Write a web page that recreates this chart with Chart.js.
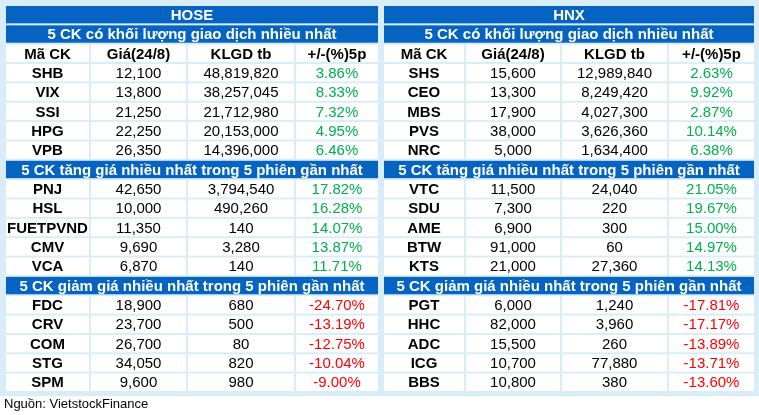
<!DOCTYPE html>
<html><head><meta charset="utf-8">
<script src="https://cdn.jsdelivr.net/npm/chart.js@4"></script>
<style>html,body{margin:0;padding:0;background:#fff}#wrap{width:759px;height:415px}</style>
</head><body><div id="wrap"><canvas id="chart"></canvas></div>
<script>
const exchanges = ["HOSE", "HNX"];
const sections = ["5 CK có khối lượng giao dịch nhiều nhất", "5 CK tăng giá nhiều nhất trong 5 phiên gần nhất", "5 CK giảm giá nhiều nhất trong 5 phiên gần nhất"];
const columns = ["Mã CK", "Giá(24/8)", "KLGD tb", "+/-(%)5p"];

const hoseVolTickers = ["SHB", "VIX", "SSI", "HPG", "VPB"];
const hoseVolPrice = ["12,100", "13,800", "21,250", "22,250", "26,350"];
const hoseVolAvg = ["48,819,820", "38,257,045", "21,712,980", "20,153,000", "14,396,000"];
const hoseVolChg = [3.86, 8.33, 7.32, 4.95, 6.46];

const hoseUpTickers = ["PNJ", "HSL", "FUETPVND", "CMV", "VCA"];
const hoseUpPrice = ["42,650", "10,000", "11,350", "9,690", "6,870"];
const hoseUpAvg = ["3,794,540", "490,260", "140", "3,280", "140"];
const hoseUpChg = [17.82, 16.28, 14.07, 13.87, 11.71];

const hoseDownTickers = ["FDC", "CRV", "COM", "STG", "SPM"];
const hoseDownPrice = ["18,900", "23,700", "26,700", "34,050", "9,600"];
const hoseDownAvg = ["680", "500", "80", "820", "980"];
const hoseDownChg = [-24.70, -13.19, -12.75, -10.04, -9.00];

const hnxVolTickers = ["SHS", "CEO", "MBS", "PVS", "NRC"];
const hnxVolPrice = ["15,600", "13,300", "17,900", "38,000", "5,000"];
const hnxVolAvg = ["12,989,840", "8,249,420", "4,027,300", "3,626,360", "1,634,400"];
const hnxVolChg = [2.63, 9.92, 2.87, 10.14, 6.38];

const hnxUpTickers = ["VTC", "SDU", "AME", "BTW", "KTS"];
const hnxUpPrice = ["11,500", "7,300", "6,900", "91,000", "21,000"];
const hnxUpAvg = ["24,040", "220", "300", "60", "27,360"];
const hnxUpChg = [21.05, 19.67, 15.00, 14.97, 14.13];

const hnxDownTickers = ["PGT", "HHC", "ADC", "ICG", "BBS"];
const hnxDownPrice = ["6,000", "82,000", "15,500", "10,700", "10,800"];
const hnxDownAvg = ["1,240", "3,960", "260", "77,880", "380"];
const hnxDownChg = [-17.81, -17.17, -13.89, -13.71, -13.60];

const source = "Nguồn: VietstockFinance";

const blocks = [
  [[hoseVolTickers, hoseVolPrice, hoseVolAvg, hoseVolChg], [hoseUpTickers, hoseUpPrice, hoseUpAvg, hoseUpChg], [hoseDownTickers, hoseDownPrice, hoseDownAvg, hoseDownChg]],
  [[hnxVolTickers, hnxVolPrice, hnxVolAvg, hnxVolChg], [hnxUpTickers, hnxUpPrice, hnxUpAvg, hnxUpChg], [hnxDownTickers, hnxDownPrice, hnxDownAvg, hnxDownChg]]
];

// column edges in chart units (x axis 0..759), row height in y units
const colEdges = [[5, 90, 187, 295, 379], [383, 465, 561, 668, 755]];
const top0 = 5, rowH = 19.35;

const tablePlugin = {
  id: "table",
  afterDraw(chart) {
    const ctx = chart.ctx, xs = chart.scales.x, ys = chart.scales.y;
    const X = v => xs.getPixelForValue(v), Y = v => ys.getPixelForValue(v);
    ctx.save();
    ctx.fillStyle = "#d9edf9";
    ctx.fillRect(X(0), Y(0), X(759) - X(0), Y(396) - Y(0));
    ctx.textBaseline = "middle";
    ctx.textAlign = "center";
    const cell = (x0, x1, r, fill, text, color, bold) => {
      const y0 = Y(top0 + r * rowH), y1 = Y(top0 + (r + 1) * rowH);
      ctx.fillStyle = fill;
      ctx.fillRect(X(x0) + 1, y0 + 1, X(x1) - X(x0) - 2, y1 - y0 - 2);
      ctx.fillStyle = color;
      ctx.font = (bold ? "bold " : "") + "15px 'Liberation Sans', Arial, sans-serif";
      ctx.fillText(text, (X(x0) + X(x1)) / 2, (y0 + y1) / 2 + 1);
    };
    exchanges.forEach((ex, e) => {
      const ed = colEdges[e], L = ed[0], R = ed[4];
      let r = 0;
      cell(L, R, r++, "#0563c1", ex, "#fff", true);
      blocks[e].forEach((b, s) => {
        cell(L, R, r++, "#0563c1", sections[s], "#fff", true);
        if (s === 0) {
          columns.forEach((c, i) => cell(ed[i], ed[i + 1], r, "#fff", c, "#000", true));
          r++;
        }
        b[0].forEach((t, k) => {
          const chg = b[3][k];
          cell(ed[0], ed[1], r, "#fff", t, "#000", true);
          cell(ed[1], ed[2], r, "#fff", b[1][k], "#000", false);
          cell(ed[2], ed[3], r, "#fff", b[2][k], "#000", false);
          cell(ed[3], ed[4], r, "#fff", chg.toFixed(2) + "%", chg >= 0 ? "#00b050" : "#ff0000", false);
          r++;
        });
      });
    });
    ctx.textAlign = "left";
    ctx.fillStyle = "#000";
    ctx.font = "13px 'Liberation Sans', Arial, sans-serif";
    ctx.fillText(source, X(4), Y(404));
    ctx.restore();
  }
};

new Chart(document.getElementById("chart"), {
  type: "scatter",
  data: { datasets: [{ data: [], pointRadius: 0 }] },
  options: {
    responsive: true,
    maintainAspectRatio: false,
    animation: false,
    layout: { padding: 0 },
    plugins: { legend: { display: false }, tooltip: { enabled: false } },
    scales: {
      x: { type: "linear", min: 0, max: 759, display: false },
      y: { type: "linear", min: 0, max: 415, reverse: true, display: false }
    }
  },
  plugins: [tablePlugin]
});
</script>
</body></html>
